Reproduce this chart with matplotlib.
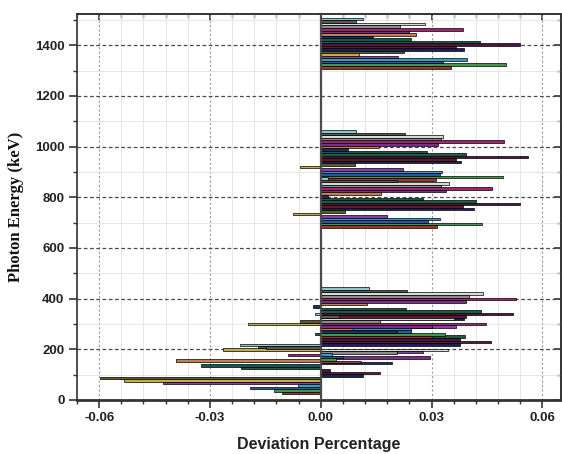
import numpy as np
import matplotlib
matplotlib.use('Agg')
import matplotlib.pyplot as plt
from matplotlib.ticker import MultipleLocator, FormatStrFormatter, NullFormatter

plt.rcParams['axes.unicode_minus'] = False
plt.rcParams['font.family'] = ['Liberation Sans', 'DejaVu Sans']

# Eu-152 gamma lines (keV)
energies = [121.8, 244.7, 344.3, 778.9, 964.1, 1408.0]

# deviation of each sample at each line, listed bottom -> top inside a group
dev_122 = [-0.0104, -0.0126, -0.0192, -0.0061, -0.0426, -0.0532, -0.0599, 0.0114, 0.0160, 0.0024,
           -0.0216, -0.0324, 0.0194, -0.0392, 0.0297, -0.0088, 0.0205, 0.0344, -0.0149, -0.0219]
dev_245 = [0.0110, 0.0040, 0.0060, 0.0030, 0.0276, -0.0264, -0.0170, 0.0376, 0.0461, 0.0376,
           0.0390, -0.0015, 0.0205, 0.0087, 0.0300, 0.0448, 0.0160, 0.0362, 0.0050, -0.0015]
dev_344 = [0.0300, 0.0335, 0.0245, 0.0245, 0.0365, -0.0198, -0.0057, 0.0389, 0.0394, 0.0520,
           0.0434, 0.0230, -0.0022, 0.0126, 0.0394, 0.0529, 0.0400, 0.0438, 0.0233, 0.0131]
dev_779 = [0.0314, 0.0437, 0.0290, 0.0322, 0.0180, -0.0076, 0.0065, 0.0414, 0.0385, 0.0538,
           0.0420, 0.0278, 0.0019, 0.0162, 0.0340, 0.0464, 0.0325, 0.0346, 0.0205, 0.0020]
dev_964 = [0.0313, 0.0492, 0.0322, 0.0329, 0.0222, -0.0055, 0.0092, 0.0380, 0.0367, 0.0560,
           0.0394, 0.0288, 0.0073, 0.0157, 0.0316, 0.0497, 0.0325, 0.0332, 0.0227, 0.0096]
dev_1408 = [0.0353, 0.0502, 0.0330, 0.0395, 0.0208, 0.0103, 0.0224, 0.0389, 0.0367, 0.0538,
            0.0432, 0.0243, 0.0141, 0.0259, 0.0240, 0.0384, 0.0214, 0.0281, 0.0096, 0.0113]

series_colors = ['#a0362a', '#3c9a48', '#2b56a6', '#3a9ec0', '#8b3fa8', '#c2ad48', '#5b5a2a',
                 '#1b1f5e', '#5e1b28', '#4b1548', '#1f5b3c', '#12585a', '#1a2c66', '#c4804c',
                 '#7b2d8e', '#a5236e', '#8c8c8c', '#d9d9d9', '#575757', '#86cccc']

groups = [dev_122, dev_245, dev_344, dev_779, dev_964, dev_1408]
n_series = len(series_colors)
bar_h = 10.0

# flatten the grouped bars so that shorter bars are drawn over longer ones
ys, xs, cs = [], [], []
for e, devs in zip(energies, groups):
    for i, d in enumerate(devs):
        ys.append(e + (i - (n_series - 1) / 2) * bar_h)
        xs.append(d)
        cs.append(series_colors[i])
ys, xs, cs = np.array(ys), np.array(xs), np.array(cs)
order = np.argsort(-np.abs(xs), kind='stable')

fig = plt.figure(figsize=(5.62, 4.54), dpi=100)
ax = fig.add_axes([0.137, 0.119, 0.861, 0.850])

ax.barh(ys[order], xs[order], height=bar_h, color=cs[order], edgecolor='black', linewidth=0.5, zorder=2)
ax.axvline(0, color='#4a4a4a', lw=1.6, zorder=3)

ax.set_xlim(-0.066, 0.065)
ax.set_ylim(0, 1523)
ax.xaxis.set_major_locator(MultipleLocator(0.03))
ax.xaxis.set_minor_locator(MultipleLocator(0.006))
ax.xaxis.set_major_formatter(FormatStrFormatter('%.2f'))
ax.yaxis.set_major_locator(MultipleLocator(200))
ax.yaxis.set_minor_locator(MultipleLocator(100))

ax.set_axisbelow(True)
ax.grid(which='minor', color='#e2e2e2', lw=0.6, ls='-')
ax.grid(which='major', axis='x', color='#9a9a9a', lw=0.8, ls=(0, (2, 2)))
ax.grid(which='major', axis='y', color='#4a4a4a', lw=0.9, ls=(0, (3, 2)))

for s in ax.spines.values():
    s.set_color('#333333')
    s.set_linewidth(1.2)
ax.spines['bottom'].set_linewidth(2.0)

ax.tick_params(which='both', direction='out', color='#333333')
ax.tick_params(which='major', length=6, width=1.2, labelsize=9.5, pad=3)
ax.tick_params(which='minor', length=3, width=1.0)
for lab in ax.get_xticklabels() + ax.get_yticklabels():
    lab.set_fontweight('bold')
    lab.set_color('#222222')

# top and right frame carry inward ticks without labels
top = ax.secondary_xaxis('top')
right = ax.secondary_yaxis('right')
for sec, axis, step, minor in ((top, top.xaxis, 0.03, 0.006), (right, right.yaxis, 200, 100)):
    axis.set_major_locator(MultipleLocator(step))
    axis.set_minor_locator(MultipleLocator(minor))
    axis.set_major_formatter(NullFormatter())
    sec.tick_params(which='both', direction='in', color='#333333')
    sec.tick_params(which='major', length=5, width=1.2)
    sec.tick_params(which='minor', length=3, width=1.0)
    for s in sec.spines.values():
        s.set_color('#333333')
        s.set_linewidth(1.2)

ax.set_xlabel('Deviation Percentage', fontsize=11.5, fontweight='bold', color='#222222', labelpad=9)
ax.set_ylabel('Photon Energy (keV)', fontsize=12, fontweight='bold', family='Liberation Serif',
              color='#111111', labelpad=8)

fig.savefig('out.png', dpi=100)
